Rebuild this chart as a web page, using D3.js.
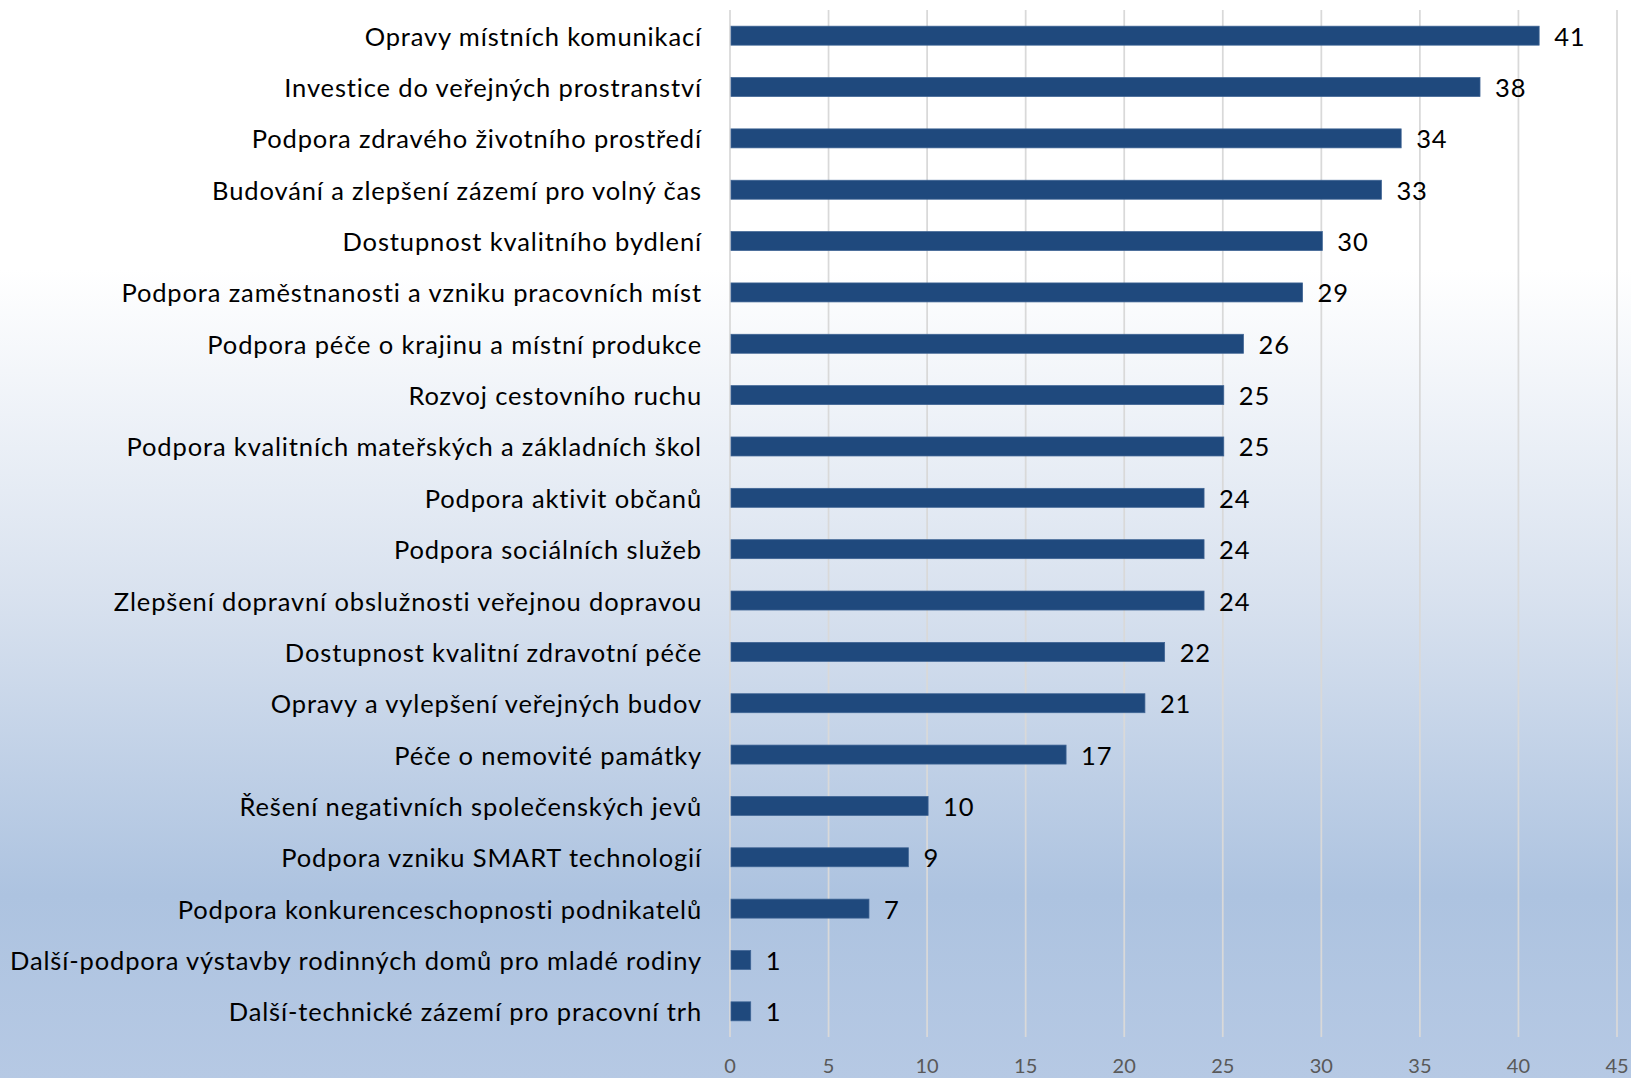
<!DOCTYPE html>
<meta charset="utf-8">
<style>
    body {
        margin: 0;
        overflow: hidden;
    }
</style>
<div id="container"></div>
<script src="https://cdn.jsdelivr.net/npm/d3@7"></script>
<script>
    const categories = [
        "Opravy místních komunikací",
        "Investice do veřejných prostranství",
        "Podpora zdravého životního prostředí",
        "Budování a zlepšení zázemí pro volný čas",
        "Dostupnost kvalitního bydlení",
        "Podpora zaměstnanosti a vzniku pracovních míst",
        "Podpora péče o krajinu a místní produkce",
        "Rozvoj cestovního ruchu",
        "Podpora kvalitních mateřských a základních škol",
        "Podpora aktivit občanů",
        "Podpora sociálních služeb",
        "Zlepšení dopravní obslužnosti veřejnou dopravou",
        "Dostupnost kvalitní zdravotní péče",
        "Opravy a vylepšení veřejných budov",
        "Péče o nemovité památky",
        "Řešení negativních společenských jevů",
        "Podpora vzniku SMART technologií",
        "Podpora konkurenceschopnosti podnikatelů",
        "Další-podpora výstavby rodinných domů pro mladé rodiny",
        "Další-technické zázemí pro pracovní trh"
    ];
    const values = [41, 38, 34, 33, 30, 29, 26, 25, 25, 24, 24, 24, 22, 21, 17, 10, 9, 7, 1, 1];
    const xTicks = [0, 5, 10, 15, 20, 25, 30, 35, 40, 45];

    const width = 1631;
    const height = 1078;
    const font = "Lato, 'Open Sans', sans-serif";

    const svg = d3.select("#container").append("svg")
        .attr("width", width)
        .attr("height", height);

    // background gradient, white at the top fading into light blue
    const grad = svg.append("defs").append("linearGradient")
        .attr("id", "bg")
        .attr("x1", 0).attr("y1", 0).attr("x2", 0).attr("y2", 1);
    grad.append("stop").attr("offset", "0").attr("stop-color", "#ffffff");
    grad.append("stop").attr("offset", "0.25").attr("stop-color", "#ffffff");
    grad.append("stop").attr("offset", "0.55").attr("stop-color", "#d9e2ef");
    grad.append("stop").attr("offset", "0.83").attr("stop-color", "#adc3e0");
    grad.append("stop").attr("offset", "1").attr("stop-color", "#b6c9e4");

    svg.append("rect")
        .attr("width", width)
        .attr("height", height)
        .attr("fill", "url(#bg)");

    const x = d3.scaleLinear().domain([0, 45]).range([730, 1617]);
    const y = d3.scaleBand().domain(categories).range([10, 1037])
        .paddingInner(0.63).paddingOuter(0.315);

    // vertical grid lines
    svg.append("g").selectAll("line")
        .data(xTicks)
        .join("line")
        .attr("x1", d => x(d)).attr("x2", d => x(d))
        .attr("y1", 10).attr("y2", 1037)
        .attr("stroke", "#d9d9d9")
        .attr("stroke-width", 1.75);

    // tick labels
    svg.append("g").selectAll("text")
        .data(xTicks)
        .join("text")
        .attr("x", d => x(d))
        .attr("y", 1065)
        .attr("text-anchor", "middle")
        .attr("dominant-baseline", "central")
        .attr("fill", "#595959")
        .style("font-family", font)
        .style("font-size", "20px")
        .text(d => d);

    // bars
    svg.append("g").selectAll("rect")
        .data(values)
        .join("rect")
        .attr("x", x(0) + 1)
        .attr("y", (d, i) => y(categories[i]))
        .attr("width", d => x(d) - x(0))
        .attr("height", y.bandwidth())
        .attr("fill", "#1f497d")
        .attr("stroke", "#3f6494")
        .attr("stroke-width", 0.75);

    // category labels
    const fontSize = 25.5;
    const labels = svg.append("g").selectAll("text")
        .data(categories)
        .join("text")
        .attr("x", 702)
        .attr("y", d => y(d) + y.bandwidth() / 2)
        .attr("text-anchor", "end")
        .attr("dominant-baseline", "central")
        .attr("fill", "#000")
        .style("font-family", font)
        .style("font-size", fontSize + "px")
        .text(d => d);

    // widen the spacing so the longest label spans the same width as in the original
    let longest = 0, longestChars = 1;
    labels.each(function (d) {
        const w = this.getComputedTextLength();
        if (w > longest) { longest = w; longestChars = d.length; }
    });
    const spacing = Math.max(0, (692 - longest) / longestChars);
    labels.style("letter-spacing", spacing + "px");

    // value labels
    svg.append("g").selectAll("text")
        .data(values)
        .join("text")
        .attr("x", d => x(d) + 16)
        .attr("y", (d, i) => y(categories[i]) + y.bandwidth() / 2)
        .attr("dominant-baseline", "central")
        .attr("fill", "#000")
        .style("font-family", font)
        .style("font-size", fontSize + "px")
        .style("letter-spacing", spacing + "px")
        .text(d => d);
</script>
